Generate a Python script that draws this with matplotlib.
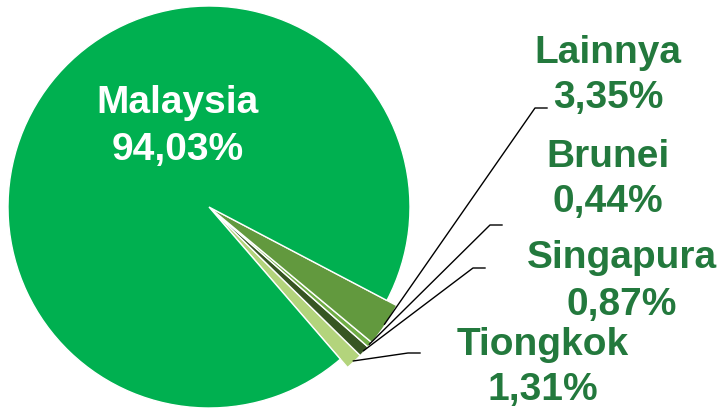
import numpy as np
import matplotlib
matplotlib.use("Agg")
import matplotlib.pyplot as plt

# Data
LABELS = ["Tiongkok", "Singapura", "Brunei", "Lainnya", "Malaysia"]
VALUES = [1.31, 0.87, 0.44, 3.35, 94.03]
COLOURS = ["#B3D47C", "#375623", "#70AD47", "#62993E", "#00B050"]
TEXT_GREEN = "#23793D"

# Label layout in pixels: (center x, baseline of name, baseline of value)
LABEL_POS = {
    "Lainnya": (608, 63, 108),
    "Brunei": (608, 167, 212),
    "Singapura": (622, 268, 315),
    "Tiongkok": (543, 355, 400),
    "Malaysia": (178, 113, 160),
}
# Leader line elbow and end (pixels)
LEADER = {
    "Lainnya": ((535, 108), (547, 108)),
    "Brunei": ((490, 225), (502, 225)),
    "Singapura": ((473, 268), (485, 268)),
    "Tiongkok": ((408, 353), (420, 353)),
}

W, H = 725, 409
CX, CY, R = 209, 207, 201


def px(x, y):
    return (x - CX) / R, (CY - y) / R


fig = plt.figure(figsize=(W / 100, H / 100), dpi=100)
ax = fig.add_axes([0, 0, 1, 1])

total = sum(VALUES)
start = -49.2
wedges, _ = ax.pie(VALUES, colors=COLOURS, startangle=start, counterclock=True,
                   wedgeprops={"edgecolor": "white", "linewidth": 1.0})

# Small slices stick out a little
for w, lab in zip(wedges, LABELS):
    if lab != "Malaysia":
        w.set_radius(1.055)

ax.set_aspect("auto")
ax.set_xlim(-CX / R, (W - CX) / R)
ax.set_ylim((CY - H) / R, CY / R)
ax.axis("off")

font = {"family": ["Liberation Sans", "DejaVu Sans"], "weight": "bold", "size": 28}

angle = start
for lab, val in zip(LABELS, VALUES):
    span = val / total * 360
    mid = np.deg2rad(angle + span / 2)
    angle += span
    cx, b1, b2 = LABEL_POS[lab]
    col = "white" if lab == "Malaysia" else TEXT_GREEN
    pct = f"{val:.2f}%".replace(".", ",")
    ax.text(*px(cx, b1), lab, ha="center", va="baseline", color=col, **font)
    ax.text(*px(cx, b2), pct, ha="center", va="baseline", color=col, **font)

    if lab in LEADER:
        r0 = 1.05
        x0, y0 = r0 * np.cos(mid), r0 * np.sin(mid)
        (ex, ey), (hx, hy) = LEADER[lab]
        x1, y1 = px(ex, ey)
        x2, y2 = px(hx, hy)
        ax.plot([x0, x1, x2], [y0, y1, y2], color="black", lw=1.0)

fig.savefig("out.png", dpi=100)
plt.close(fig)
